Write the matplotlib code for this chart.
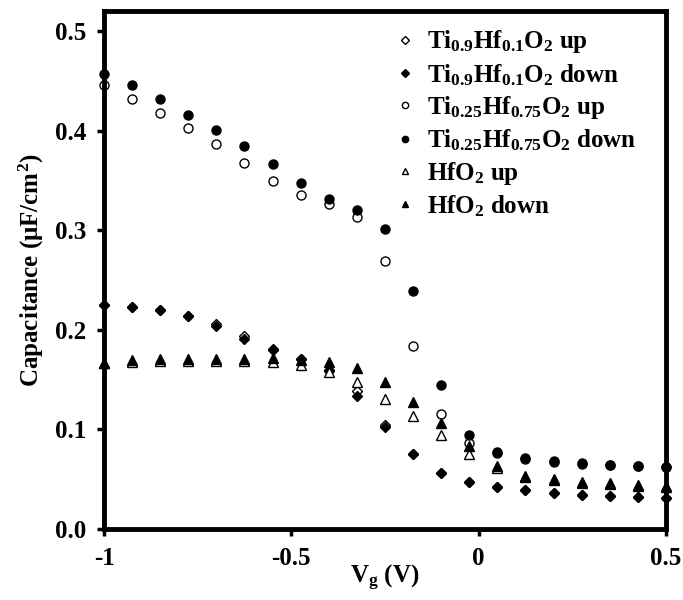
import numpy as np
import matplotlib
matplotlib.use('Agg')
import matplotlib.pyplot as plt

plt.rcParams['font.family'] = 'Liberation Serif'
plt.rcParams['font.weight'] = 'bold'
plt.rcParams['mathtext.fontset'] = 'custom'
plt.rcParams['mathtext.rm'] = 'Liberation Serif:bold'
plt.rcParams['mathtext.bf'] = 'Liberation Serif:bold'
plt.rcParams['mathtext.it'] = 'Liberation Serif:bold'
plt.rcParams['mathtext.default'] = 'bf'

# gate voltage sweep, -1 V to 0.5 V
vg = [-1.0, -0.925, -0.85, -0.775, -0.7, -0.625, -0.55, -0.475, -0.4, -0.325,
      -0.25, -0.175, -0.1, -0.025, 0.05, 0.125, 0.2, 0.275, 0.35, 0.425, 0.5]

# capacitance in uF/cm^2
ti09_up = [0.225, 0.223, 0.220, 0.214, 0.206, 0.194, 0.180, 0.171, 0.160, 0.139,
           0.104, 0.075, 0.056, 0.047, 0.042, 0.039, 0.036, 0.034, 0.033, 0.032, 0.031]
ti09_down = [0.225, 0.223, 0.220, 0.214, 0.204, 0.191, 0.181, 0.171, 0.159, 0.134,
             0.102, 0.075, 0.056, 0.047, 0.042, 0.039, 0.036, 0.034, 0.033, 0.032, 0.031]
ti025_up = [0.446, 0.432, 0.418, 0.403, 0.386, 0.367, 0.349, 0.335, 0.326, 0.313,
            0.269, 0.184, 0.115, 0.086, 0.076, 0.070, 0.067, 0.065, 0.064, 0.063, 0.062]
ti025_down = [0.457, 0.446, 0.432, 0.416, 0.401, 0.384, 0.366, 0.347, 0.331, 0.320,
              0.301, 0.239, 0.145, 0.094, 0.077, 0.071, 0.068, 0.066, 0.064, 0.063, 0.062]
hfo2_up = [0.167, 0.168, 0.169, 0.169, 0.169, 0.169, 0.168, 0.165, 0.158, 0.148,
           0.131, 0.113, 0.094, 0.075, 0.061, 0.052, 0.049, 0.046, 0.045, 0.043, 0.042]
hfo2_down = [0.167, 0.170, 0.171, 0.171, 0.171, 0.171, 0.172, 0.170, 0.168, 0.162,
             0.148, 0.127, 0.106, 0.083, 0.063, 0.053, 0.050, 0.047, 0.046, 0.044, 0.043]

series = [
    (ti09_up, 'D', 'white', r'Ti$_{0.9}$Hf$_{0.1}$O$_{2}$ up'),
    (ti09_down, 'D', 'black', r'Ti$_{0.9}$Hf$_{0.1}$O$_{2}$ down'),
    (ti025_up, 'o', 'white', r'Ti$_{0.25}$Hf$_{0.75}$O$_{2}$ up'),
    (ti025_down, 'o', 'black', r'Ti$_{0.25}$Hf$_{0.75}$O$_{2}$ down'),
    (hfo2_up, '^', 'white', r'HfO$_{2}$ up'),
    (hfo2_down, '^', 'black', r'HfO$_{2}$ down'),
]

fig = plt.figure(figsize=(6.83, 6.0), dpi=100)
ax = fig.add_axes([0.1523, 0.1183, 0.8227, 0.8634])

for y, m, fc, lab in series:
    ms = 6.5 if m != 'D' else 5.5
    ax.plot(vg, y, linestyle='none', marker=m, markersize=ms,
            markerfacecolor=fc, markeredgecolor='black', markeredgewidth=1.0,
            label=lab, clip_on=False)

ax.set_xlim(-1, 0.5)
ax.set_ylim(0, 0.52)
ax.set_xticks([-1, -0.5, 0, 0.5])
ax.set_xticklabels(['-1', '-0.5', '0', '0.5'])
ax.set_yticks([0, 0.1, 0.2, 0.3, 0.4, 0.5])
ax.set_yticklabels(['0.0', '0.1', '0.2', '0.3', '0.4', '0.5'])
ax.tick_params(direction='out', length=5, width=2.5, labelsize=18, pad=8)

for s in ax.spines.values():
    s.set_linewidth(3.5)

ax.set_xlabel(r'V$_{g}$ (V)', fontsize=18, fontweight='bold', labelpad=-5)
ax.set_ylabel(r'Capacitance ($\mathrm{\mu}$F/cm$^{2}$)', fontsize=18,
              fontweight='bold', labelpad=6)

leg = ax.legend(loc='upper left', bbox_to_anchor=(0.482, 1.0), frameon=False,
                fontsize=18, markerscale=0.7, handlelength=1.0,
                handletextpad=0.4, labelspacing=0.26, borderaxespad=0.3)

plt.savefig('out.png', dpi=100)
